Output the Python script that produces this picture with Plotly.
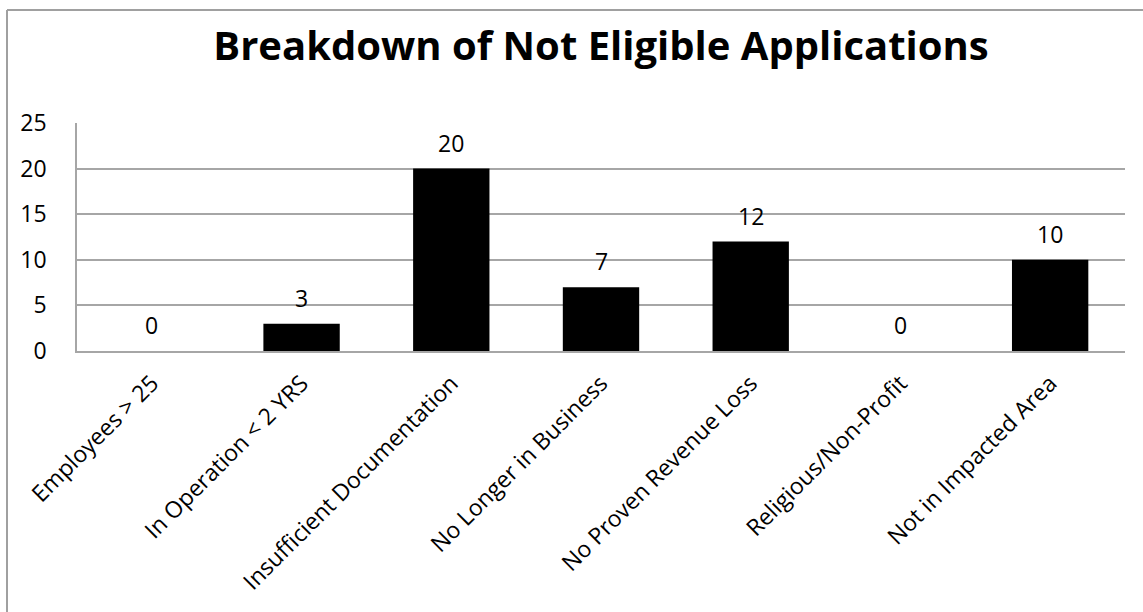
import plotly.graph_objects as go

categories = [
    "Employees > 25",
    "In Operation < 2 YRS",
    "Insufficient Documentation",
    "No Longer in Business",
    "No Proven Revenue Loss",
    "Religious/Non-Profit",
    "Not in Impacted Area",
]
counts = [0, 3, 20, 7, 12, 0, 10]
y_ticks = [0, 5, 10, 15, 20, 25]

FONT = "Open Sans, Lato, sans-serif"
GRID = "#A6A6A6"
LABEL_SIZE = 23

fig = go.Figure(
    go.Bar(
        x=categories,
        y=counts,
        marker=dict(color="black", line=dict(width=0)),
        width=0.51,
        hoverinfo="x+y",
    )
)

# value labels above each bar
for cat, val in zip(categories, counts):
    fig.add_annotation(
        x=cat, y=val, text=str(val), showarrow=False,
        yanchor="middle", yshift=26,
        font=dict(family=FONT, size=LABEL_SIZE, color="black"),
    )

# outer chart frame: only its left and top edges lie inside the page
W, H = 1143, 612
plot_l, plot_r, plot_t, plot_b = 77, 1125, 123, 351
pw, ph = plot_r - plot_l, plot_b - plot_t
fx0 = (7 - plot_l) / pw
fx1 = (W - plot_l) / pw
fy0 = (plot_b - H) / ph
fy1 = (plot_b - 10) / ph
fig.add_shape(type="line", xref="paper", yref="paper", x0=fx0, x1=fx0, y0=fy0, y1=fy1,
              line=dict(color="#A0A0A0", width=2))
fig.add_shape(type="line", xref="paper", yref="paper", x0=fx0, x1=fx1, y0=fy1, y1=fy1,
              line=dict(color="#A0A0A0", width=2))

fig.update_layout(
    width=W,
    height=H,
    margin=dict(l=plot_l, r=W - plot_r, t=plot_t, b=H - plot_b),
    paper_bgcolor="white",
    plot_bgcolor="white",
    showlegend=False,
    title=dict(
        text="<b>Breakdown of Not Eligible Applications</b>",
        x=0.5, xanchor="center", xref="paper",
        y=(H - 46) / H, yanchor="middle",
        font=dict(family=FONT, size=40, color="black"),
    ),
    font=dict(family=FONT, size=LABEL_SIZE, color="black"),
    bargap=0.49,
)

fig.update_xaxes(
    tickangle=-45,
    tickfont=dict(family=FONT, size=LABEL_SIZE, color="black"),
    showgrid=False,
    showline=True, linecolor=GRID, linewidth=1.5,
    ticks="", ticklabelstandoff=8,
)
fig.update_yaxes(
    range=[0, 25],
    tickvals=y_ticks,
    tickfont=dict(family=FONT, size=LABEL_SIZE, color="black"),
    showgrid=True, gridcolor=GRID, gridwidth=1.5,
    showline=True, linecolor=GRID, linewidth=1.5,
    zeroline=False,
    ticks="", ticklabelstandoff=24,
)

fig.write_html("out.html")
